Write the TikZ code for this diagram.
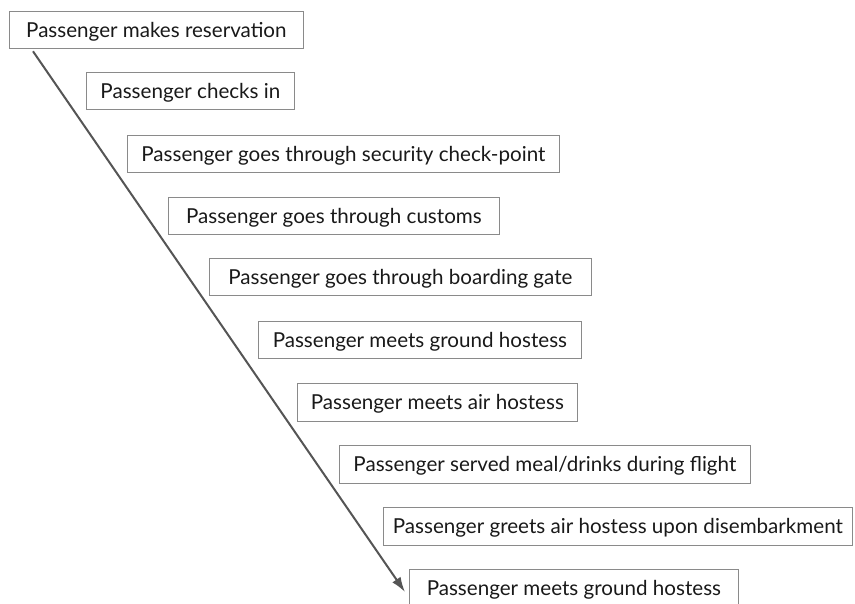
\documentclass[tikz,border=0pt]{standalone}
\usepackage{fontspec}
\setmainfont{Lato}
\usetikzlibrary{arrows.meta}
\definecolor{boxline}{HTML}{8A8A8A}
\definecolor{flowline}{HTML}{555555}
\begin{document}
\begin{tikzpicture}[x=1pt,y=-1pt,
  stage/.style={draw=boxline, line width=0.8pt, anchor=north west,
    inner sep=0pt, minimum height=37.5pt, text height=14.5pt, text depth=0pt,
    font=\fontsize{20.6}{24}\selectfont, text=black!90},
  flow/.style={draw=flowline, line width=2pt,
    -{Latex[length=15pt,width=10pt]}}]
  \useasboundingbox (0,0) rectangle (855,604);

  % the stages of the journey, each set a step further right
  \node[stage, minimum width=294pt] (b1)  at (9,11)   {Passenger makes reservation};
  \node[stage, minimum width=208pt] (b2)  at (86,72)  {Passenger checks in};
  \node[stage, minimum width=432pt] (b3)  at (127,135) {Passenger goes through security check-point};
  \node[stage, minimum width=331pt] (b4)  at (168,197) {Passenger goes through customs};
  \node[stage, minimum width=382pt] (b5)  at (209,258) {Passenger goes through boarding gate};
  \node[stage, minimum width=323pt] (b6)  at (258,321) {Passenger meets ground hostess};
  \node[stage, minimum width=280pt] (b7)  at (297,383) {Passenger meets air hostess};
  \node[stage, minimum width=411pt] (b8)  at (339,445) {Passenger served meal/drinks during flight};
  \node[stage, minimum width=469pt] (b9)  at (383,507) {Passenger greets air hostess upon disembarkment};
  \node[stage, minimum width=329pt, minimum height=42pt, text depth=4.5pt] (b10) at (409,569) {Passenger meets ground hostess};

  % the time line running down past every stage
  \coordinate (tip) at (405,592);
  \draw[flow] ([xshift=24pt,yshift=-2pt]b1.south west) -- (tip);
\end{tikzpicture}
\end{document}
